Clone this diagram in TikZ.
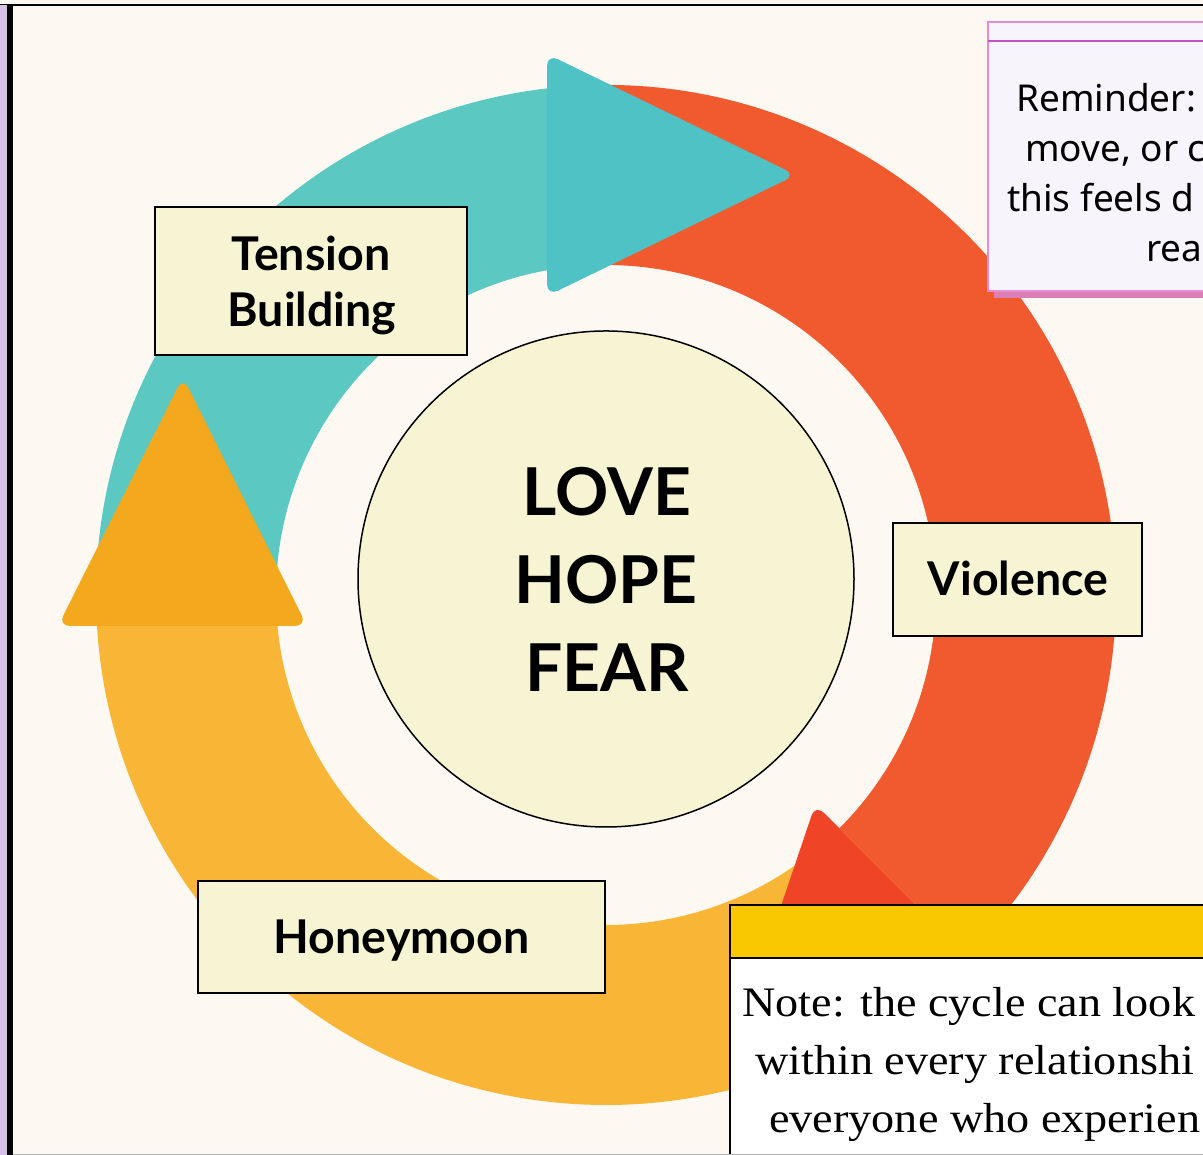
\documentclass[tikz,border=0pt]{standalone}
\usepackage{fontspec}
\usetikzlibrary{calc}
\newfontfamily\lblfont{Lato}
\newfontfamily\remfont{Noto Sans}
\newfontfamily\notefont{Liberation Serif}[FakeStretch=1.1]
\definecolor{bgc}{HTML}{FDF8F1}
\definecolor{lav}{HTML}{D7C1E8}
\definecolor{tealring}{HTML}{5CC8C2}
\definecolor{tealarrow}{HTML}{4FC2C5}
\definecolor{redring}{HTML}{F15A2F}
\definecolor{redarrow}{HTML}{EF4426}
\definecolor{orgring}{HTML}{F9B536}
\definecolor{orgarrow}{HTML}{F4A81E}
\definecolor{lblfill}{HTML}{F6F4D2}
\definecolor{remfill}{HTML}{F7F4FC}
\definecolor{rempink}{HTML}{E68CD6}
\definecolor{remline}{HTML}{C253C0}
\definecolor{remshadow}{HTML}{DC7FB6}
\definecolor{noteyellow}{HTML}{F8C800}
\tikzset{
  lblbox/.style={draw=black, line width=2.5pt, fill=lblfill, inner sep=0pt},
  lbltext/.style={font=\lblfont\bfseries\fontsize{46.5}{54}\selectfont, anchor=base, inner sep=0pt},
  coretext/.style={font=\lblfont\bfseries\fontsize{66}{78}\selectfont, anchor=base, inner sep=0pt},
  remtext/.style={font=\remfont\fontsize{37}{44}\selectfont, anchor=base west, inner sep=0pt},
  notetext/.style={font=\notefont\fontsize{42}{50}\selectfont, anchor=base west, inner sep=0pt},
}
\begin{document}
\begin{tikzpicture}[x=1pt,y=1pt]
\useasboundingbox (0,0) rectangle (1203,1155);
\clip (0,0) rectangle (1203,1155);
\fill[bgc] (0,0) rectangle (1203,1155);
\coordinate (C) at (606,560);
% ring segments
\fill[tealring] ($(C)+(182:510)$) arc[start angle=182,end angle=96,radius=510]
  -- ($(C)+(96:330)$) arc[start angle=96,end angle=182,radius=330] -- cycle;
\fill[redring] ($(C)+(96:510)$) arc[start angle=96,end angle=-45,radius=510]
  -- ($(C)+(-45:330)$) arc[start angle=-45,end angle=96,radius=330] -- cycle;
\fill[orgring] ($(C)+(-45:510)$) arc[start angle=-45,end angle=-176.63,radius=510]
  -- ($(C)+(-174.78:330)$) arc[start angle=-174.78,end angle=-45,radius=330] -- cycle;
% arrowheads
\coordinate (ta1) at (547,1101);
\coordinate (ta2) at (796,980);
\coordinate (ta3) at (547,859);
\fill[tealarrow, rounded corners=12pt] (ta1) -- (ta2) -- (ta3) -- cycle;
\coordinate (oa1) at (58,529);
\coordinate (oa2) at (183,778);
\coordinate (oa3) at (307,529);
\fill[orgarrow, rounded corners=12pt] (oa1) -- (oa2) -- (oa3) -- cycle;
\coordinate (ra1) at ($(C)+(-45:296)$);
\coordinate (ra2) at ($(C)+(-45:544)$);
\coordinate (ra3) at ($(C)+(-45:420)+(225:250)$);
\fill[redarrow, rounded corners=12pt] (ra1) -- (ra2) -- (ra3) -- cycle;
% centre
\node[circle, draw=black, line width=1.5pt, fill=lblfill, minimum size=496pt, inner sep=0pt] (core) at (606,576) {};
\node[coretext] (love) at (607,639) {LOVE};
\node[coretext] (hope) at (606,551) {HOPE};
\node[coretext] (fear) at (607,463) {FEAR};
% stage labels
\node[lblbox, minimum width=312pt, minimum height=148pt] (tbbox) at (311,874) {};
\node[lbltext] (tb1) at (311,884) {Tension};
\node[lbltext] (tb2) at (312,828) {Building};
\node[lblbox, minimum width=249pt, minimum height=113pt] (vbox) at (1017.5,575.5) {};
\node[lbltext] (vtext) at (1018,559) {Violence};
\node[lblbox, minimum width=407pt, minimum height=112pt] (hbox) at (401.5,218) {};
\node[lbltext] (htext) at (401.5,201) {Honeymoon};
% reminder box
\fill[remshadow] (994,857) rectangle (1215,870);
\filldraw[fill=remfill, draw=rempink, line width=1.2pt] (988,864) rectangle (1215,1133);
\draw[remline, line width=1.2pt] (988,1114) -- (1215,1114);
\node[remtext] (r1) at (1016,1043) {Reminder:};
\node[remtext] (r2) at (1025,993) {move, or c};
\node[remtext] (r3) at (1007,943) {this feels d};
\node[remtext] (r4) at (1146,893) {rea};
% note box
\filldraw[fill=white, draw=black, line width=2.5pt] (730,-20) rectangle (1230,250);
\filldraw[fill=noteyellow, draw=black, line width=2.5pt] (730,197) rectangle (1230,250);
\node[notetext] (n1) at (742,138) {Note: the cycle can look};
\node[notetext] (n2) at (755,80) {within every relationshi};
\node[notetext] (n3) at (769,22) {everyone who experien};
% frame
\fill[black] (0,1149) rectangle (1203,1151);
\fill[lav] (0,0) rectangle (7,1150);
\fill[black] (7,0) rectangle (13,1150);
\fill[black!30] (13,0) rectangle (1203,1);
\end{tikzpicture}
\end{document}
